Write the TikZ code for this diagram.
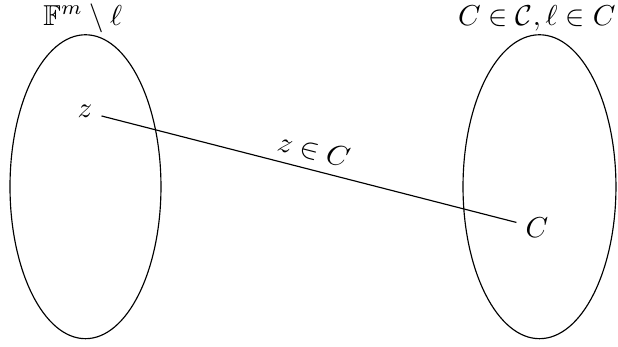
\documentclass[tikz,border=0pt]{standalone}
\usepackage{amsmath,amssymb}
\usepackage{xcolor}
\usepackage{tikz}
\usetikzlibrary{positioning,calc}
\definecolor{cInk}{HTML}{000000}
\tikzset{
  setell/.style={draw=cInk,line width=0.4pt},
  pt/.style={inner sep=3pt,text=cInk},
  lbl/.style={inner sep=2pt,text=cInk},
}

\begin{document}
\begin{tikzpicture}
        \useasboundingbox (0,0) rectangle (7.54,4.23);
        \draw[setell] (1.043,1.952) ellipse (0.921 and 1.854);
        \draw[setell] (6.582,1.952) ellipse (0.933 and 1.854);
        \node[lbl] (top-left) at (1.01,4.01) {$\mathbb{F}^m\setminus\ell$};
        \node[lbl] (top-right) at (6.55,4.01) {$C\in\mathcal{C},\ell\in C$};
        \node[pt] (z) at (1.037,2.867) {$z$};
        \node[pt] (C) at (6.551,1.452) {$C$};
        \draw[cInk,line width=0.4pt] (z) -- node[sloped,above,lbl,yshift=1pt] {$z\in C$} (C);
      \end{tikzpicture}
\end{document}
